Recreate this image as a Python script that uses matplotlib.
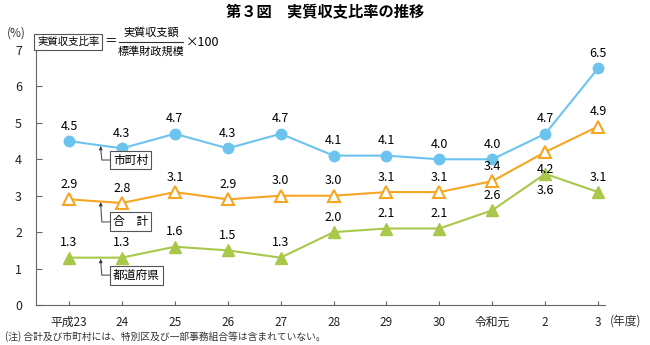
import matplotlib.pyplot as plt
from matplotlib.lines import Line2D

plt.rcParams['font.family'] = ['Noto Sans CJK JP', 'DejaVu Sans']

years = ['平成23', '24', '25', '26', '27', '28', '29', '30', '令和元', '2', '3']
shichoson = [4.5, 4.3, 4.7, 4.3, 4.7, 4.1, 4.1, 4.0, 4.0, 4.7, 6.5]
goukei = [2.9, 2.8, 3.1, 2.9, 3.0, 3.0, 3.1, 3.1, 3.4, 4.2, 4.9]
todofuken = [1.3, 1.3, 1.6, 1.5, 1.3, 2.0, 2.1, 2.1, 2.6, 3.6, 3.1]

blue = '#6cc4ee'
orange = '#f5a623'
green = '#a9c84b'

W, H = 650, 345
fig = plt.figure(figsize=(6.5, 3.45), dpi=100)
ax = fig.add_axes([36 / W, 40 / H, (605 - 36) / W, (305 - 50) / H])

def px(x, y):
    return x / W, 1 - y / H

x = list(range(len(years)))
ax.plot(x, shichoson, color=blue, lw=1.5, marker='o', ms=7.5, zorder=3)
ax.plot(x, goukei, color=orange, lw=1.5, marker='^', ms=9, mfc='white', mew=1.5, zorder=3)
ax.plot(x, todofuken, color=green, lw=1.5, marker='^', ms=8, zorder=3)

fs = 9
for i in x:
    ax.annotate(f'{shichoson[i]:.1f}', (i, shichoson[i]), xytext=(0, 6), textcoords='offset points',
                ha='center', va='bottom', fontsize=fs)
    dy = -8 if i == 9 else 6
    ax.annotate(f'{goukei[i]:.1f}', (i, goukei[i]), xytext=(0, dy), textcoords='offset points',
                ha='center', va='top' if dy < 0 else 'bottom', fontsize=fs)
    dy = -7 if i == 9 else 6
    ax.annotate(f'{todofuken[i]:.1f}', (i, todofuken[i]), xytext=(0, dy), textcoords='offset points',
                ha='center', va='top' if dy < 0 else 'bottom', fontsize=fs)

# callout labels
callouts = [('市町村', 4.36, 3.98), ('合\u3000計', 2.82, 2.28), ('都道府県', 1.26, 0.82)]
for name, ty, by in callouts:
    ax.plot([0.6, 0.62, 0.82], [ty - 0.08, by, by], color='#555555', lw=0.8, zorder=2)
    ax.annotate('', xy=(0.6, ty), xytext=(0.6, ty - 0.12),
                arrowprops=dict(arrowstyle='-|>', color='#333333', lw=0.6, mutation_scale=5))
    ax.text(0.83, by, name, ha='left', va='center', fontsize=8.5,
            bbox=dict(boxstyle='square,pad=0.25', fc='white', ec='#555555', lw=0.8))

ax.set_xlim(-0.624, 10.13)
ax.set_ylim(0, 7)
ax.set_yticks(range(8))
ax.set_xticks(x)
ax.set_xticklabels(years, fontsize=8.5)
ax.tick_params(axis='y', direction='in', length=4, labelsize=9, colors='#666666', pad=10)
ax.tick_params(axis='x', direction='in', length=3, pad=8, colors='#666666')
for lab in ax.get_xticklabels() + ax.get_yticklabels():
    lab.set_color('#222222')
for s in ['top', 'right']:
    ax.spines[s].set_visible(False)
for s in ['left', 'bottom']:
    ax.spines[s].set_color('#666666')
    ax.spines[s].set_linewidth(0.8)

fig.text(*px(325, 12), '第３図\u3000実質収支比率の推移', ha='center', va='center',
         fontsize=11, fontweight='bold')
fig.text(*px(16, 33), '(%)', ha='center', va='center', fontsize=8.5, color='#333333')
fig.text(*px(610, 321), '(年度)', ha='left', va='center', fontsize=8.5, color='#333333')
fig.text(*px(5, 337), '(注) 合計及び市町村には、特別区及び一部事務組合等は含まれていない。',
         ha='left', va='center', fontsize=7, color='#333333')

# formula
fig.text(*px(37, 42), '実質収支比率', ha='left', va='center', fontsize=7.5,
         bbox=dict(boxstyle='square,pad=0.25', fc='white', ec='#555555', lw=0.8))
fig.text(*px(110, 42), '＝', ha='center', va='center', fontsize=9)
fig.text(*px(151, 33), '実質収支額', ha='center', va='center', fontsize=8)
fig.text(*px(151, 51), '標準財政規模', ha='center', va='center', fontsize=8)
fig.add_artist(Line2D([119 / W, 183 / W], [1 - 42 / H, 1 - 42 / H], color='#333333', lw=0.8))
fig.text(*px(186, 42), '×100', ha='left', va='center', fontsize=9)

fig.savefig('out.png', dpi=100)
